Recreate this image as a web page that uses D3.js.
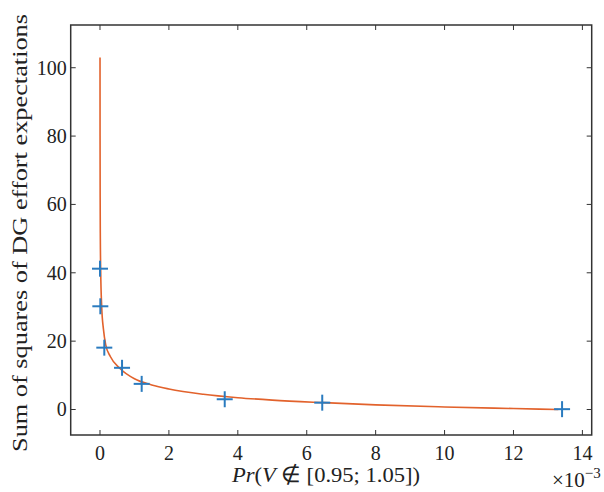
<!DOCTYPE html>
<html><head><meta charset="utf-8">
<script src="https://cdn.jsdelivr.net/npm/d3@7"></script>
<style>html,body{margin:0;padding:0;background:#fff;} svg{display:block;}
svg text{font-family:"Liberation Serif";}
</style>
</head><body>
<svg id="c" width="604" height="492">
  <text id="ylab" transform="translate(27,452)rotate(-90)" font-size="22" fill="#222" textLength="438" lengthAdjust="spacingAndGlyphs">Sum of squares of DG effort expectations</text>
  <text id="xlab" x="232" y="482" font-size="22" fill="#222" textLength="188" lengthAdjust="spacingAndGlyphs"><tspan font-style="italic">Pr</tspan>(<tspan font-style="italic">V</tspan> ∉ [0.95; 1.05])</text>
  <text id="expo" x="552" y="487" font-size="21" fill="#222">×10<tspan dy="-9" font-size="15">−3</tspan></text>
</svg>
<script>
// Measured points (blue crosses)
const pointX = [0.0, 0.01, 0.125, 0.64, 1.21, 3.62, 6.45, 13.41];
const pointY = [41.2, 30.2, 18.1, 12.2, 7.5, 3.0, 2.0, 0.1];
// Fitted curve
const curveX = [0.0008, 0.002, 0.005, 0.01, 0.02, 0.05, 0.1, 0.165, 0.3, 0.58, 1.0, 1.5, 2, 3, 4, 5, 6.5, 8, 10, 12, 13.3];
const curveY = [103, 80, 62, 50, 41, 30, 23.5, 19, 15.5, 12, 9.0, 7.2, 6.0, 4.45, 3.45, 2.75, 2.0, 1.35, 0.75, 0.28, 0.0];
const xTicks = [0, 2, 4, 6, 8, 10, 12, 14];
const yTicks = [0, 20, 40, 60, 80, 100];

const svg = d3.select('#c');
const L = 70.7, R = 591.7, T = 25, B = 435;
const x = d3.scaleLinear().domain([-0.85, 14.27]).range([L, R]);
const y = d3.scaleLinear().domain([-7.46, 112.5]).range([B, T]);
const axisColor = '#333';
const FF = 'Liberation Serif';

const g = svg.append('g');
const tl = 5;
xTicks.forEach(t => {
  g.append('line').attr('x1', x(t)).attr('x2', x(t)).attr('y1', B).attr('y2', B - tl).attr('stroke', axisColor).attr('stroke-width', 1);
  g.append('line').attr('x1', x(t)).attr('x2', x(t)).attr('y1', T).attr('y2', T + tl).attr('stroke', axisColor).attr('stroke-width', 1);
  g.append('text').attr('x', x(t)).attr('y', B + 25).attr('text-anchor', 'middle')
    .attr('font-family', FF).attr('font-size', 20).attr('fill', '#222').text(t);
});
yTicks.forEach(t => {
  g.append('line').attr('x1', L).attr('x2', L + tl).attr('y1', y(t)).attr('y2', y(t)).attr('stroke', axisColor).attr('stroke-width', 1);
  g.append('line').attr('x1', R).attr('x2', R - tl).attr('y1', y(t)).attr('y2', y(t)).attr('stroke', axisColor).attr('stroke-width', 1);
  g.append('text').attr('x', L - 4).attr('y', y(t)).attr('dy', '0.34em').attr('text-anchor', 'end')
    .attr('font-family', FF).attr('font-size', 20).attr('fill', '#222').text(t);
});

const curveData = curveX.map((v, i) => [v, curveY[i]]);
const line = d3.line().x(d => x(d[0])).y(d => y(d[1])).curve(d3.curveMonotoneX);
svg.append('path').datum(curveData).attr('d', line).attr('fill', 'none')
  .attr('stroke', '#e2622c').attr('stroke-width', 1.6);

const ms = 8;
const pts = pointX.map((v, i) => [v, pointY[i]]);
const pg = svg.append('g').attr('stroke', '#2a7bbf').attr('stroke-width', 2);
pts.forEach(d => {
  const cx = x(d[0]), cy = y(d[1]);
  pg.append('line').attr('x1', cx - ms).attr('x2', cx + ms).attr('y1', cy).attr('y2', cy);
  pg.append('line').attr('x1', cx).attr('x2', cx).attr('y1', cy - ms).attr('y2', cy + ms);
});

svg.append('rect').attr('x', L).attr('y', T).attr('width', R - L).attr('height', B - T)
  .attr('fill', 'none').attr('stroke', axisColor).attr('stroke-width', 1.5);
</script>
</body></html>
